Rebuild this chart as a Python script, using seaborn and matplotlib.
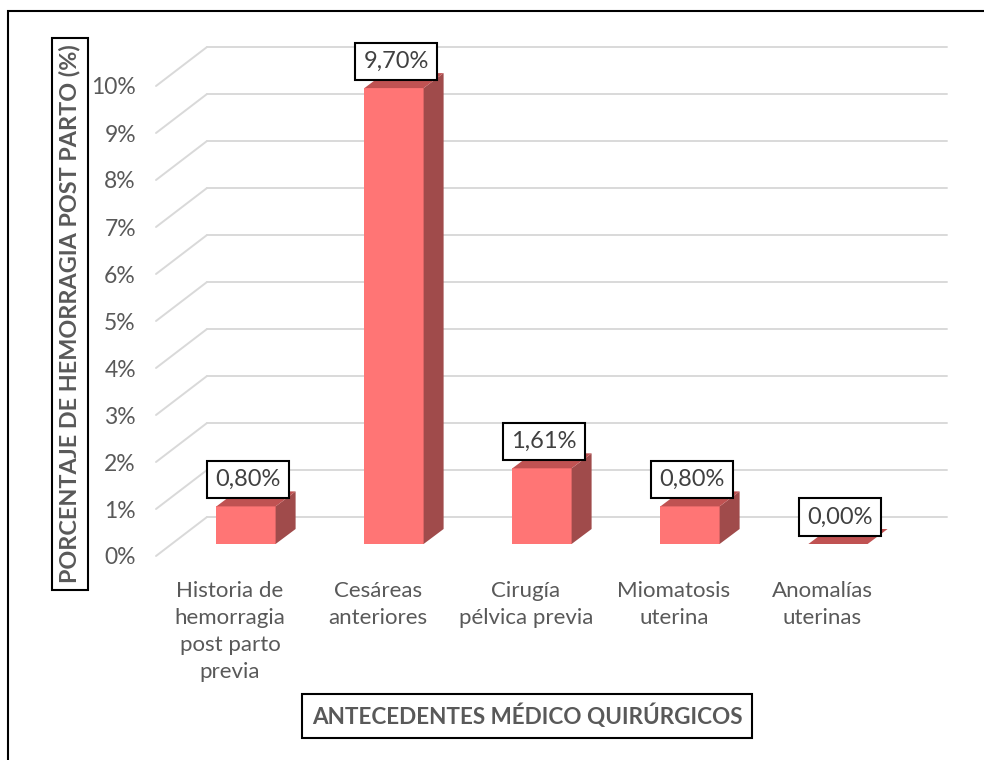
import matplotlib
matplotlib.use("Agg")
import matplotlib.pyplot as plt
from matplotlib.patches import Polygon, Rectangle
import seaborn as sns

# datos del gráfico
categorias = ["Historia de\nhemorragia\npost parto\nprevia", "Cesáreas\nanteriores",
              "Cirugía\npélvica previa", "Miomatosis\nuterina", "Anomalías\nuterinas"]
porcentajes = [0.80, 9.70, 1.61, 0.80, 0.00]
etiquetas = ["0,80%", "9,70%", "1,61%", "0,80%", "0,00%"]
ticks_y = [0, 1, 2, 3, 4, 5, 6, 7, 8, 9, 10]

sns.set_style("white")
plt.rcParams["font.family"] = ["Lato", "DejaVu Sans"]

GRIS = "#595959"
FRENTE = "#FF7575"
LADO = "#A04B4B"
TECHO = "#C05252"

# escala: 148 px por categoria, 47 px por 1 %
PX_X, PX_Y = 148.0, 47.0
prof = (20 / PX_X, 15 / PX_Y)      # profundidad de la barra
fondo = (35 / PX_X, 27 / PX_Y)     # pared del fondo
frente = (-16 / PX_X, -12 / PX_Y)  # plano frontal (ejes)

W, H = 984, 760
ylim = (-0.6, 10.8)
y0_px = 544 + ylim[0] * -PX_Y
fig = plt.figure(figsize=(W / 100, H / 100), dpi=100)
ax = fig.add_axes([172 / W, (H - y0_px) / H, 5 * PX_X / W, (ylim[1] - ylim[0]) * PX_Y / H])

sns.barplot(x=list(range(len(porcentajes))), y=porcentajes, color=FRENTE, saturation=1,
            width=0.4, ax=ax, zorder=3, linewidth=0)
ax.set_xlim(-0.5, 4.5)
ax.set_ylim(*ylim)

# lineas de la cuadricula (pared del fondo y lateral)
for t in ticks_y:
    ax.plot([-0.5 + fondo[0], 4.5 + fondo[0]], [t + fondo[1]] * 2, color="#D9D9D9",
            lw=1.4, zorder=1, clip_on=False)
    ax.plot([-0.5 + frente[0], -0.5 + fondo[0]], [t + frente[1], t + fondo[1]],
            color="#D9D9D9", lw=1.4, zorder=1, clip_on=False)

# caras laterales y superiores de cada barra
for p, v, txt in zip(ax.patches, porcentajes, etiquetas):
    x0 = p.get_x()
    x1 = x0 + p.get_width()
    lado = [(x1, 0), (x1 + prof[0], prof[1]), (x1 + prof[0], v + prof[1]), (x1, v)]
    techo = [(x0, v), (x1, v), (x1 + prof[0], v + prof[1]), (x0 + prof[0], v + prof[1])]
    ax.add_patch(Polygon(lado, closed=True, fc=LADO, ec="none", zorder=3, clip_on=False))
    ax.add_patch(Polygon(techo, closed=True, fc=TECHO, ec="none", zorder=3, clip_on=False))
    p.set_clip_on(False)
    ax.text((x0 + x1) / 2 + 2 / PX_X, v + 27 / PX_Y, txt, ha="center", va="center",
            fontsize=17, color="#404040", zorder=5,
            bbox=dict(boxstyle="square,pad=0.34", fc="white", ec="black", lw=1.5))

ax.set_yticks([t + frente[1] for t in ticks_y], [f"{t}%" for t in ticks_y])
ax.set_xticks([i + frente[0] for i in range(len(categorias))], categorias)
ax.tick_params(axis="y", length=0, pad=26, labelsize=16.5, labelcolor=GRIS)
ax.tick_params(axis="x", length=0, pad=6, labelsize=16, labelcolor=GRIS)
for lab in ax.get_xticklabels():
    lab.set_linespacing(1.45)
    lab.set_va("top")
sns.despine(ax=ax, left=True, bottom=True)
ax.set_xlabel("")
ax.set_ylabel("")

# titulos con recuadro
fig.text(70 / W, (H - 314) / H, "PORCENTAJE DE HEMORRAGIA POST PARTO (%)", rotation=90,
         ha="center", va="center", fontsize=16.8, fontweight="bold", color=GRIS,
         bbox=dict(boxstyle="square,pad=0.3", fc="white", ec="black", lw=1.5))
fig.text(527 / W, (H - 716) / H, "ANTECEDENTES MÉDICO QUIRÚRGICOS",
         ha="center", va="center", fontsize=16.2, fontweight="bold", color=GRIS,
         bbox=dict(boxstyle="square,pad=0.45", fc="white", ec="black", lw=1.5))

# borde exterior del grafico
fig.patches.append(Rectangle((8 / W, -0.05), 1.1, (H - 11) / H + 0.05, fill=False,
                             ec="black", lw=1.5, transform=fig.transFigure))

fig.savefig("out.png", dpi=100)
